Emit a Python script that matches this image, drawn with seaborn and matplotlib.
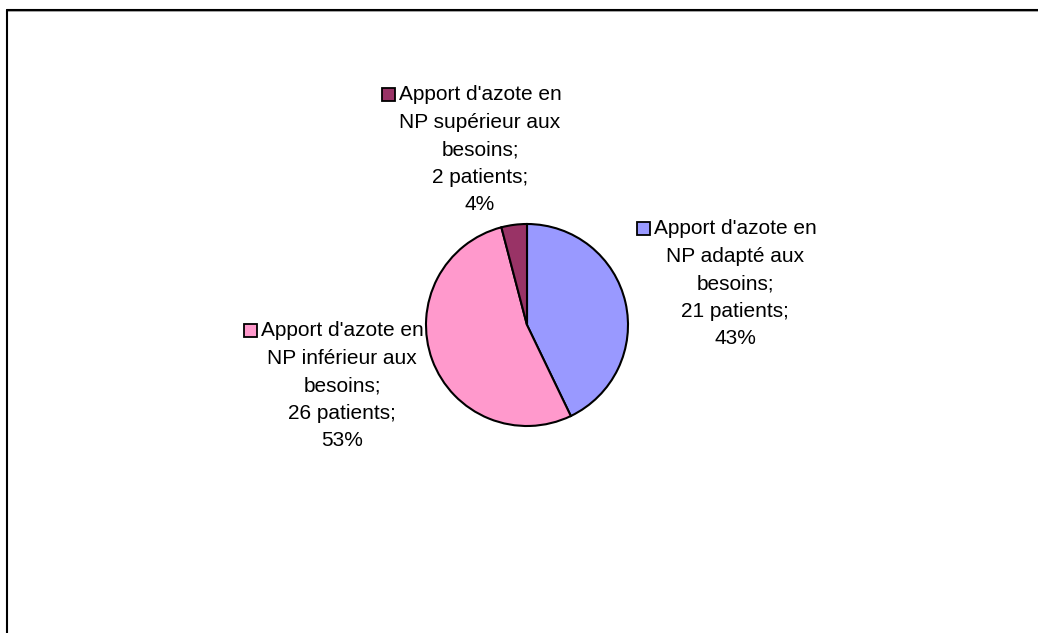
import textwrap
import matplotlib
matplotlib.use("Agg")
import matplotlib.pyplot as plt
from matplotlib.lines import Line2D
from matplotlib.patches import Rectangle
import seaborn as sns

# data
categories = ["Apport d'azote en NP adapté aux besoins",
              "Apport d'azote en NP inférieur aux besoins",
              "Apport d'azote en NP supérieur aux besoins"]
patients = [21, 26, 2]
colors = ["#9999FF", "#FF99CC", "#993366"]

# label block centres (pixels, y from top)
label_pos = [(735, 284), (342, 386), (480, 150)]

sns.set_theme(style="white")
plt.rcParams['font.family'] = ['Liberation Sans', 'DejaVu Sans']

W, H = 1038, 633
fig = plt.figure(figsize=(W / 100, H / 100), dpi=100)
ax = fig.add_axes([0, 0, 1, 1])

ax.pie(patients, colors=colors, startangle=90, counterclock=False,
       center=(527, H - 325), radius=101,
       wedgeprops=dict(edgecolor="black", linewidth=1.5))
ax.set_xlim(0, W)
ax.set_ylim(0, H)
ax.set_aspect("equal")
ax.axis("off")

total = sum(patients)
fig.canvas.draw()
renderer = fig.canvas.get_renderer()
step = 27.5
for cat, n, col, (cx, cy) in zip(categories, patients, colors, label_pos):
    lines = textwrap.wrap(cat, 17)
    lines[-1] = lines[-1] + ";"
    lines += [f"{n} patients;", f"{round(100 * n / total)}%"]
    y0 = H - cy + step * (len(lines) - 1) / 2
    texts = []
    for i, ln in enumerate(lines):
        t = ax.text(cx, y0 - i * step, ln, ha="center", va="center",
                    fontsize=15, color="black")
        texts.append(t)
    bb = texts[0].get_window_extent(renderer)
    left = bb.x0
    sq = 13
    ax.add_patch(Rectangle((left - sq - 4, y0 - sq / 2 + 1), sq, sq,
                           facecolor=col, edgecolor="black", linewidth=1.3,
                           zorder=5))

# chart area border (top and left)
fig.add_artist(Line2D([7 / W, 1], [1 - 11 / H, 1 - 11 / H], color="#999999",
                      linewidth=1.2, transform=fig.transFigure))
fig.add_artist(Line2D([7 / W, 1], [1 - 9.5 / H, 1 - 9.5 / H], color="black",
                      linewidth=1.5, transform=fig.transFigure))
fig.add_artist(Line2D([7 / W, 7 / W], [0, 1 - 9.5 / H], color="black",
                      linewidth=1.5, transform=fig.transFigure))

fig.savefig("out.png", dpi=100, facecolor="white")
